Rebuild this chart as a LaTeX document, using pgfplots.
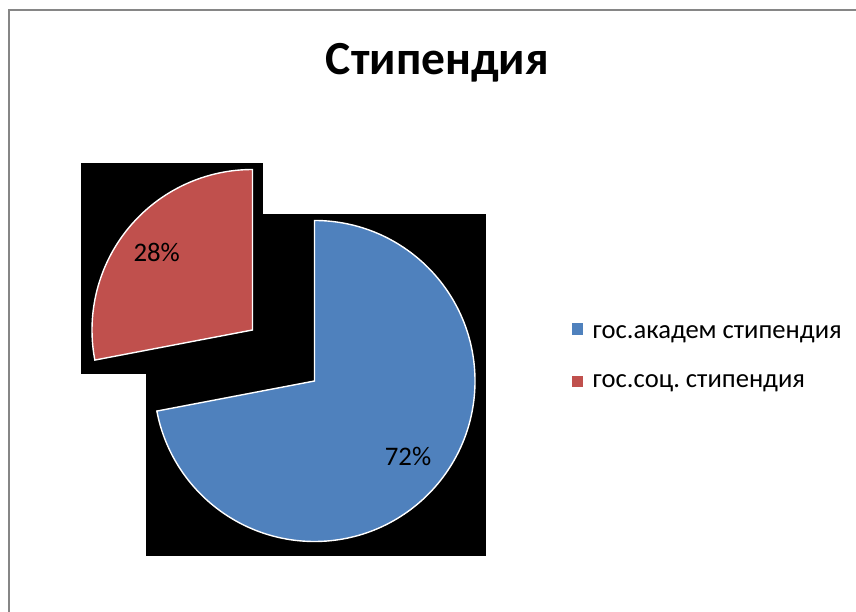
\documentclass[border=0pt]{standalone}
\usepackage{pgfplots}
\usepackage{pgfplotstable}
\pgfplotsset{compat=1.18}
\usepackage{fontspec}
\setmainfont{Carlito}
\frenchspacing
\definecolor{pieblue}{HTML}{4F81BD}
\definecolor{piered}{HTML}{C0504D}
\definecolor{framegray}{HTML}{868686}
\pgfplotstableread{
label value
akad 72
soc 28
}\piedata
\begin{document}
\begin{tikzpicture}
\pgfplotstablegetelem{0}{value}\of\piedata \let\va\pgfplotsretval
\pgfplotstablegetelem{1}{value}\of\piedata \let\vb\pgfplotsretval
\pgfmathsetmacro{\enda}{90-3.6*\va}
\pgfmathsetmacro{\endb}{90+3.6*\vb}
\begin{axis}[width=856pt,height=612pt,scale only axis,
  xmin=0,xmax=856,ymin=0,ymax=612,hide axis]
% background and frame
\fill[white] (axis cs:0,0) rectangle (axis cs:856,612);
\draw[framegray,line width=1.6pt] (axis cs:9,-20) -- (axis cs:9,602) -- (axis cs:880,602);
% black boxes (rendering artifacts)
\fill[black] (axis cs:146,56) rectangle (axis cs:485.5,398);
\fill[black] (axis cs:80.7,238) rectangle (axis cs:262.7,449.3);
% blue slice
\filldraw[fill=pieblue,draw=white,line width=1.4pt,line join=miter]
  (axis cs:314.5,231) -- ++(90:160.5pt) arc[start angle=90,end angle=\enda,radius=160.5pt] -- cycle;
% red slice (exploded)
\filldraw[fill=piered,draw=white,line width=1.4pt,line join=miter]
  (axis cs:252.5,282) -- ++(90:160.5pt) arc[start angle=90,end angle=\endb,radius=160.5pt] -- cycle;
% data labels
\node[anchor=base,font=\fontsize{26.8}{32}\selectfont] at (axis cs:408,146) {\va\%};
\node[anchor=base,font=\fontsize{26.8}{32}\selectfont] at (axis cs:156.7,350.3) {\vb\%};
% title
\node[anchor=base,font=\fontsize{47.5}{56}\selectfont\bfseries] at (axis cs:437.5,537) {Стипендия};
% legend
\fill[pieblue] (axis cs:571.7,276.9) rectangle (axis cs:583.3,289.3);
\fill[piered] (axis cs:571.7,224.7) rectangle (axis cs:583.3,236.3);
\node[anchor=base west,inner sep=0pt,font=\fontsize{26.6}{32}\selectfont] at (axis cs:592.5,273.7) {гос.академ стипендия};
\node[anchor=base west,inner sep=0pt,font=\fontsize{26.6}{32}\selectfont] at (axis cs:592.5,224.5) {гос.соц. стипендия};
\end{axis}
\end{tikzpicture}
\end{document}
